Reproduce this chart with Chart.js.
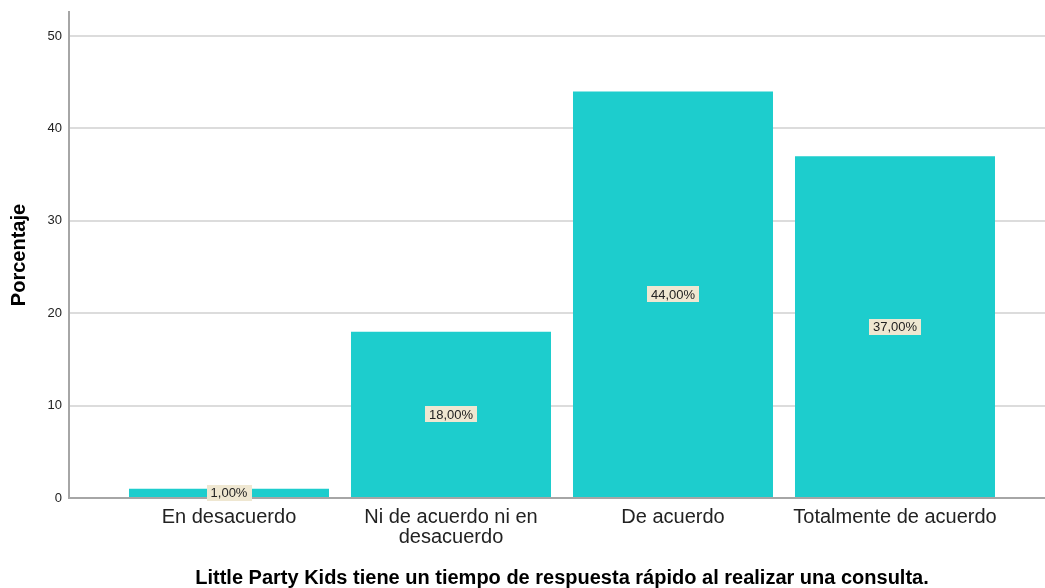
<!DOCTYPE html>
<html>
<head>
<meta charset="utf-8">
<script src="https://cdn.jsdelivr.net/npm/chart.js@4/dist/chart.umd.min.js"></script>
<style>
  html, body { margin: 0; padding: 0; background: #fff; }
  #wrap { width: 1045px; height: 588px; position: relative; }
</style>
</head>
<body>
<div id="wrap"><canvas id="myChart"></canvas></div>
<script>
const categories = ['En desacuerdo', 'Ni de acuerdo ni en\ndesacuerdo', 'De acuerdo', 'Totalmente de acuerdo'];
const percentages = [1, 18, 44, 37];
const yTicks = [0, 10, 20, 30, 40, 50];
const xTitle = 'Little Party Kids tiene un tiempo de respuesta rápido al realizar una consulta.';
const yTitle = 'Porcentaje';

const FONT = "'Liberation Sans', Arial, sans-serif";
const BAR_COLOR = '#1dcdcd';

// etiquetas de porcentaje en el centro de cada barra
const barLabels = {
    id: 'barLabels',
    afterDatasetsDraw(chart) {
        const ctx = chart.ctx;
        const meta = chart.getDatasetMeta(0);
        ctx.save();
        ctx.font = '13px ' + FONT;
        ctx.textAlign = 'center';
        ctx.textBaseline = 'middle';
        meta.data.forEach((bar, i) => {
            const txt = percentages[i].toFixed(2).replace('.', ',') + '%';
            const cy = (bar.y + bar.base) / 2;
            const w = ctx.measureText(txt).width + 8;
            const h = 16;
            ctx.fillStyle = '#efe7d1';
            ctx.fillRect(Math.round(bar.x - w / 2), Math.round(cy - h / 2), Math.round(w), h);
            ctx.fillStyle = '#222';
            ctx.fillText(txt, bar.x, cy + 1);
        });
        ctx.restore();
    }
};

// titel under x-axeln, centrerad över kategorierna
const bottomTitle = {
    id: 'bottomTitle',
    afterDraw(chart) {
        const ctx = chart.ctx;
        const x = chart.scales.x;
        const cx = (x.getPixelForValue(-0.5) + x.getPixelForValue(categories.length - 0.5)) / 2;
        ctx.save();
        ctx.font = 'bold 20px ' + FONT;
        ctx.fillStyle = '#000';
        ctx.textAlign = 'center';
        ctx.textBaseline = 'alphabetic';
        ctx.fillText(xTitle, cx, 584);
        ctx.restore();
    }
};

const ctx = document.getElementById('myChart').getContext('2d');
new Chart(ctx, {
    type: 'bar',
    data: {
        datasets: [{
            data: percentages.map((v, i) => ({ x: i, y: v })),
            backgroundColor: BAR_COLOR,
            borderWidth: 0,
            categoryPercentage: 1,
            barPercentage: 0.9009
        }]
    },
    options: {
        responsive: true,
        maintainAspectRatio: false,
        animation: false,
        layout: { padding: { top: 12, right: 0, left: 0, bottom: 0 } },
        plugins: {
            legend: { display: false },
            tooltip: { enabled: false }
        },
        scales: {
            x: {
                type: 'linear',
                offset: false,
                min: -0.7207,
                max: 3.6757,
                grid: { display: false, drawTicks: false, offset: false },
                border: { color: '#a6a6a6', width: 2 },
                afterBuildTicks: s => { s.ticks = categories.map((c, i) => ({ value: i })); },
                afterFit: s => { s.height = 90; s.paddingLeft = 0; s.paddingRight = 0; },
                ticks: {
                    autoSkip: false,
                    maxRotation: 0,
                    padding: 9,
                    color: '#222',
                    font: { family: FONT, size: 20, lineHeight: 1.0 },
                    callback: v => categories[v] !== undefined ? categories[v].split('\n') : ''
                }
            },
            y: {
                min: 0,
                max: 52.6,
                grid: { color: '#dcdcdc', lineWidth: 2, drawTicks: false },
                border: { color: '#a6a6a6', width: 2 },
                afterBuildTicks: s => { s.ticks = yTicks.map(v => ({ value: v })); },
                afterFit: s => { s.width = 69; s.paddingTop = 0; s.paddingBottom = 0; },
                ticks: {
                    padding: 7,
                    color: '#222',
                    font: { family: FONT, size: 13 }
                },
                title: {
                    display: true,
                    text: yTitle,
                    color: '#000',
                    padding: { top: 7, bottom: 0 },
                    font: { family: FONT, size: 20, weight: 'bold' }
                }
            }
        }
    },
    plugins: [barLabels, bottomTitle]
});
</script>
</body>
</html>
